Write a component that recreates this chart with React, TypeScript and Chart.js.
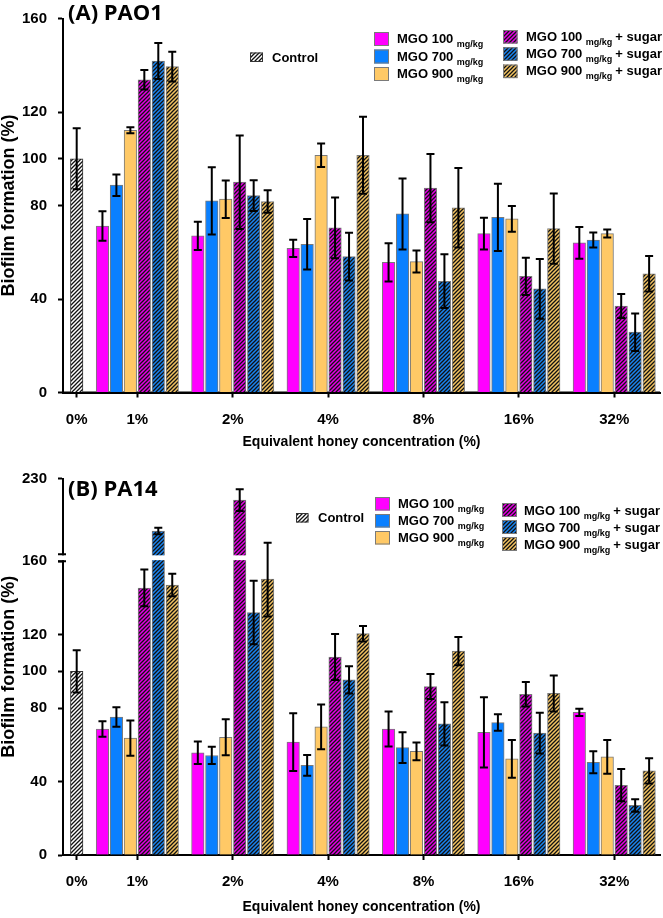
import React, { useEffect, useRef } from 'react';
import { Chart, registerables } from 'chart.js';

Chart.register(...registerables);

// ---------------- data ----------------
const categories = ['0%', '1%', '2%', '4%', '8%', '16%', '32%'];
const seriesNames = ['MGO 100', 'MGO 700', 'MGO 900', 'MGO 100', 'MGO 700', 'MGO 900'];
const seriesUnit = 'mg/kg';
const sugarSuffix = '+ sugar';
const controlLabel = 'Control';

// (A) PAO1
const pao1Control = 100;
const pao1ControlErr = 13;
const pao1Mgo100 = [71.2, 67, 61.7, 55.7, 68, 64];
const pao1Mgo100Err = [6.3, 6, 3.7, 8.2, 6.8, 6.8];
const pao1Mgo700 = [88.7, 82, 63.4, 76.4, 74.9, 65.2];
const pao1Mgo700Err = [4.6, 14.4, 10.8, 15.2, 14.4, 3.2];
const pao1Mgo900 = [112.2, 82.7, 101.5, 56, 74.3, 68];
const pao1Mgo900Err = [1.3, 8, 5, 4.7, 5.5, 1.7];
const pao1Mgo100Sugar = [133.8, 90, 70.4, 87.4, 49.7, 37];
const pao1Mgo100SugarErr = [4.2, 20, 13, 14.6, 8, 5.1];
const pao1Mgo700Sugar = [141.8, 84.2, 58.1, 47.6, 44.3, 25.8];
const pao1Mgo700SugarErr = [7.7, 6.6, 10.2, 11.5, 12.8, 8];
const pao1Mgo900Sugar = [139.4, 81.7, 101.5, 79, 70.1, 50.8];
const pao1Mgo900SugarErr = [6.4, 4.8, 16.5, 17, 15, 7.6];
const pao1Ticks = [0, 40, 80, 100, 120, 160];

// (B) PA14
const pa14Control = 100;
const pa14ControlErr = 11.5;
const pa14Mgo100 = [68.6, 55.7, 61.5, 68.6, 66.8, 77.7];
const pa14Mgo100Err = [4.2, 6.1, 15.7, 9.5, 19.1, 2];
const pa14Mgo700 = [75.1, 54.2, 48.8, 58.5, 72.1, 50.5];
const pa14Mgo700Err = [5.3, 4.7, 5.6, 8.4, 4.5, 6];
const pa14Mgo900 = [63.6, 64.1, 69.8, 56.4, 52.3, 53.4];
const pa14Mgo900Err = [9.6, 9.8, 12.2, 4.8, 10.3, 9.2];
const pa14Mgo100Sugar = [145.4, 210, 107.8, 91.7, 87.5, 38];
const pa14Mgo100SugarErr = [10, 10, 12.5, 6.8, 6.7, 8.8];
const pa14Mgo700Sugar = [181.5, 132, 95.4, 71.4, 66.4, 27];
const pa14Mgo700SugarErr = [3, 17.3, 7.4, 11.8, 11.1, 3.4];
const pa14Mgo900Sugar = [147, 150.2, 120.5, 111, 88, 45.8];
const pa14Mgo900SugarErr = [6.1, 20.4, 4.2, 7.7, 9.8, 6.9];
const pa14Ticks = [0, 40, 80, 100, 120, 160, 230];
const pa14Break = 160;

// ---------------- styles / layout ----------------
const FONT = '"Liberation Sans", Arial, sans-serif';
const TITLE_FONT = '"Open Sans", "Liberation Sans", sans-serif';
const SOLID = ['#ff00ff', '#0a80ff', '#ffc966'];
const HATCH_BASE = ['#e600e6', '#1a84f0', '#f4c462'];
const BORDER = '#7a7a7a';
const CONTROL_POS = 0.364;
const BAR_STEP = 0.1464;
const X_MIN = 0.2204;
const X_MAX = 6.48;
const BREAK_GAP = 3.71;
const UPPER_RATIO = 0.59;
const CAP = 4;

function makeTransform(breakAt?: number) {
  if (breakAt === undefined) return (v: number) => v;
  return (v: number) => (v <= breakAt ? v : breakAt + BREAK_GAP + (v - breakAt) * UPPER_RATIO);
}

function makeHatch(base: string): any {
  const size = 4;
  const c = document.createElement('canvas');
  c.width = size;
  c.height = size;
  const g = c.getContext('2d') as CanvasRenderingContext2D;
  g.fillStyle = base;
  g.fillRect(0, 0, size, size);
  g.strokeStyle = '#111';
  g.lineWidth = 1.3;
  g.beginPath();
  g.moveTo(0, size);
  g.lineTo(size, 0);
  g.moveTo(-1, 1);
  g.lineTo(1, -1);
  g.moveTo(size - 1, size + 1);
  g.lineTo(size + 1, size - 1);
  g.stroke();
  return g.createPattern(c, 'repeat');
}

interface LegendLayout {
  control: { bx: number; by: number; bw: number; bh: number; tx: number; ty: number };
  solid: { bx: number; by: number; bw: number; bh: number; step: number; tx: number; ty: number };
  sugar: { bx: number; by: number; bw: number; bh: number; step: number; tx: number; ty: number };
}

interface PanelProps {
  title: string;
  control: number;
  controlErr: number;
  values: number[][];
  errors: number[][];
  yTicks: number[];
  breakAt?: number;
  top: number;
  height: number;
  padTop: number;
  xAxisH: number;
  xTitlePad: number;
  titleBaseline: number;
  legend: LegendLayout;
}

function Panel(p: PanelProps) {
  const ref = useRef<HTMLCanvasElement>(null);
  useEffect(() => {
    const canvas = ref.current as HTMLCanvasElement;
    const tf = makeTransform(p.breakAt);
    const yMax = tf(p.yTicks[p.yTicks.length - 1]);
    const catPos = categories.map((_, i) => (i === 0 ? CONTROL_POS : i));
    const controlPattern = makeHatch('#ffffff');
    const hatches = HATCH_BASE.map((c) => makeHatch(c));

    const datasets: any[] = [];
    datasets.push({
      label: controlLabel,
      data: [{ x: catPos[0], y: tf(p.control) }],
      real: [p.control],
      errs: [p.controlErr],
      backgroundColor: controlPattern,
      borderColor: '#333',
      borderWidth: 1,
    });
    p.values.forEach((arr, k) => {
      datasets.push({
        label: seriesNames[k] + (k >= 3 ? ' ' + sugarSuffix : ''),
        data: arr.map((v, i) => ({ x: catPos[i + 1] + (k - 2.5) * BAR_STEP, y: tf(v) })),
        real: arr,
        errs: p.errors[k],
        backgroundColor: k < 3 ? SOLID[k] : hatches[k - 3],
        borderColor: BORDER,
        borderWidth: 1,
      });
    });

    const drawLegend = (ctx: CanvasRenderingContext2D) => {
      const L = p.legend;
      ctx.save();
      ctx.lineWidth = 1;
      ctx.fillStyle = controlPattern;
      ctx.fillRect(L.control.bx, L.control.by, L.control.bw, L.control.bh);
      ctx.strokeStyle = '#333';
      ctx.strokeRect(L.control.bx + 0.5, L.control.by + 0.5, L.control.bw - 1, L.control.bh - 1);
      ctx.fillStyle = '#000';
      ctx.textBaseline = 'alphabetic';
      ctx.font = `bold 13px ${FONT}`;
      ctx.fillText(controlLabel, L.control.tx, L.control.ty + 4.6);
      const row = (g: any, i: number, fill: any, name: string, sugar: boolean) => {
        const by = g.by + i * g.step;
        ctx.fillStyle = fill;
        ctx.fillRect(g.bx, by, g.bw, g.bh);
        ctx.strokeStyle = BORDER;
        ctx.strokeRect(g.bx + 0.5, by + 0.5, g.bw - 1, g.bh - 1);
        const base = g.ty + i * g.step + 4.6;
        ctx.fillStyle = '#000';
        ctx.font = `bold 13px ${FONT}`;
        ctx.fillText(name, g.tx, base);
        let x = g.tx + ctx.measureText(name).width + 3.5;
        ctx.font = `bold 9px ${FONT}`;
        ctx.fillText(seriesUnit, x, base + 4);
        x += ctx.measureText(seriesUnit).width + 3;
        if (sugar) {
          ctx.font = `bold 13px ${FONT}`;
          ctx.fillText(sugarSuffix, x, base);
        }
      };
      for (let i = 0; i < 3; i++) row(L.solid, i, SOLID[i], seriesNames[i], false);
      for (let i = 0; i < 3; i++) row(L.sugar, i, hatches[i], seriesNames[i + 3], true);
      ctx.restore();
    };

    const overlay = {
      id: 'overlay',
      beforeDatasetsDraw(chart: any) {
        const ctx = chart.ctx as CanvasRenderingContext2D;
        const a = chart.chartArea;
        ctx.save();
        ctx.strokeStyle = '#000';
        ctx.lineWidth = 2;
        ctx.beginPath();
        ctx.moveTo(a.left, a.top);
        ctx.lineTo(a.left, a.bottom);
        ctx.lineTo(a.right, a.bottom);
        ctx.stroke();
        ctx.restore();
      },
      afterDatasetsDraw(chart: any) {
        const ctx = chart.ctx as CanvasRenderingContext2D;
        const ys = chart.scales.y;
        const area = chart.chartArea;
        ctx.save();
        if (p.breakAt !== undefined) {
          const yA = ys.getPixelForValue(p.breakAt + BREAK_GAP);
          const yB = ys.getPixelForValue(p.breakAt);
          ctx.fillStyle = '#ffffff';
          ctx.fillRect(area.left - 4, yA + 1, area.right - area.left + 4, yB - yA - 2);
          ctx.strokeStyle = '#000';
          ctx.lineWidth = 2;
          ctx.beginPath();
          ctx.moveTo(area.left - 5, yA);
          ctx.lineTo(area.left + 3, yA);
          ctx.moveTo(area.left - 5, yB);
          ctx.lineTo(area.left + 3, yB);
          ctx.stroke();
        }
        ctx.strokeStyle = '#000';
        ctx.lineWidth = 2;
        chart.data.datasets.forEach((ds: any, di: number) => {
          const meta = chart.getDatasetMeta(di);
          meta.data.forEach((el: any, j: number) => {
            const v = ds.real[j];
            const e = ds.errs[j];
            const x = el.x;
            const yT = ys.getPixelForValue(tf(v + e));
            const yBt = ys.getPixelForValue(tf(v - e));
            ctx.beginPath();
            ctx.moveTo(x, yT);
            ctx.lineTo(x, yBt);
            ctx.moveTo(x - CAP, yT);
            ctx.lineTo(x + CAP, yT);
            ctx.moveTo(x - CAP, yBt);
            ctx.lineTo(x + CAP, yBt);
            ctx.stroke();
          });
        });
        ctx.restore();
      },
      afterDraw(chart: any) {
        const ctx = chart.ctx as CanvasRenderingContext2D;
        drawLegend(ctx);
        ctx.save();
        ctx.fillStyle = '#000';
        ctx.font = `700 22px ${TITLE_FONT}`;
        ctx.textBaseline = 'alphabetic';
        ctx.fillText(p.title, 68, p.titleBaseline);
        ctx.restore();
      },
    };

    const chart = new Chart(canvas, {
      type: 'bar',
      data: { datasets },
      options: {
        responsive: false,
        maintainAspectRatio: false,
        animation: false,
        devicePixelRatio: 1,
        layout: { padding: { top: p.padTop, right: 3, left: 0, bottom: 0 } },
        datasets: { bar: { grouped: false, barThickness: 12.5 } } as any,
        plugins: { legend: { display: false }, tooltip: { enabled: false } },
        scales: {
          x: {
            type: 'linear',
            offset: false,
            min: X_MIN,
            max: X_MAX,
            afterBuildTicks: (s: any) => {
              s.ticks = catPos.map((v) => ({ value: v }));
            },
            afterFit: (s: any) => {
              s.height = p.xAxisH;
            },
            ticks: {
              callback: (_v: any, i: number) => categories[i],
              autoSkip: false,
              maxRotation: 0,
              minRotation: 0,
              padding: 13,
              color: '#000',
              font: { family: FONT, size: 15, weight: 'bold' },
            },
            grid: {
              offset: false,
              drawOnChartArea: false,
              drawTicks: true,
              tickLength: 5,
              tickWidth: 2,
              tickColor: '#000',
            },
            border: { display: true, color: '#000', width: 2 },
            title: {
              display: true,
              text: 'Equivalent honey concentration (%)',
              color: '#000',
              font: { family: FONT, size: 14, weight: 'bold' },
              padding: { top: 0, bottom: p.xTitlePad },
            },
          } as any,
          y: {
            type: 'linear',
            min: 0,
            max: yMax,
            afterBuildTicks: (s: any) => {
              s.ticks = p.yTicks.map((v) => ({ value: tf(v) }));
            },
            afterFit: (s: any) => {
              s.width = 63;
            },
            ticks: {
              callback: (_v: any, i: number) => String(p.yTicks[i]),
              padding: 11,
              color: '#000',
              font: { family: FONT, size: 15, weight: 'bold', lineHeight: 1 },
            },
            grid: { drawOnChartArea: false, drawTicks: true, tickLength: 5, tickWidth: 2, tickColor: '#000' },
            border: { display: true, color: '#000', width: 2 },
            title: {
              display: true,
              text: 'Biofilm formation (%)',
              color: '#000',
              font: { family: FONT, size: 18, weight: 'bold', lineHeight: 1 },
              padding: { top: 0, bottom: 0 },
            },
          } as any,
        },
      },
      plugins: [overlay],
    } as any);
    return () => chart.destroy();
  }, []);
  return (
    <canvas
      ref={ref}
      width={663}
      height={p.height}
      style={{ position: 'absolute', left: 0, top: p.top, width: 663, height: p.height }}
    />
  );
}

const pao1Props: PanelProps = {
  title: '(A) PAO1',
  control: pao1Control,
  controlErr: pao1ControlErr,
  values: [pao1Mgo100, pao1Mgo700, pao1Mgo900, pao1Mgo100Sugar, pao1Mgo700Sugar, pao1Mgo900Sugar],
  errors: [pao1Mgo100Err, pao1Mgo700Err, pao1Mgo900Err, pao1Mgo100SugarErr, pao1Mgo700SugarErr, pao1Mgo900SugarErr],
  yTicks: pao1Ticks,
  top: 0,
  height: 460,
  padTop: 9,
  xAxisH: 67.5,
  xTitlePad: 9.6,
  titleBaseline: 19.5,
  legend: {
    control: { bx: 250, by: 52.5, bw: 13, bh: 9.5, tx: 272, ty: 57 },
    solid: { bx: 374, by: 32, bw: 15, bh: 14, step: 17.5, tx: 397, ty: 38.5 },
    sugar: { bx: 503, by: 30, bw: 14.5, bh: 13.5, step: 17.3, tx: 526, ty: 36 },
  },
};

const pa14Props: PanelProps = {
  title: '(B) PA14',
  control: pa14Control,
  controlErr: pa14ControlErr,
  values: [pa14Mgo100, pa14Mgo700, pa14Mgo900, pa14Mgo100Sugar, pa14Mgo700Sugar, pa14Mgo900Sugar],
  errors: [pa14Mgo100Err, pa14Mgo700Err, pa14Mgo900Err, pa14Mgo100SugarErr, pa14Mgo700SugarErr, pa14Mgo900SugarErr],
  yTicks: pa14Ticks,
  breakAt: pa14Break,
  top: 460,
  height: 458,
  padTop: 8,
  xAxisH: 63,
  xTitlePad: 2.6,
  titleBaseline: 35.5,
  legend: {
    control: { bx: 296, by: 53, bw: 12.5, bh: 9.5, tx: 318, ty: 57 },
    solid: { bx: 375, by: 37, bw: 15, bh: 13.5, step: 17, tx: 398, ty: 43 },
    sugar: { bx: 502, by: 43, bw: 15, bh: 14, step: 17, tx: 524, ty: 50 },
  },
};

export default function App() {
  return (
    <div style={{ position: 'absolute', left: 0, top: 0, width: 663, height: 918, background: '#ffffff' }}>
      <Panel {...pao1Props} />
      <Panel {...pa14Props} />
    </div>
  );
}
